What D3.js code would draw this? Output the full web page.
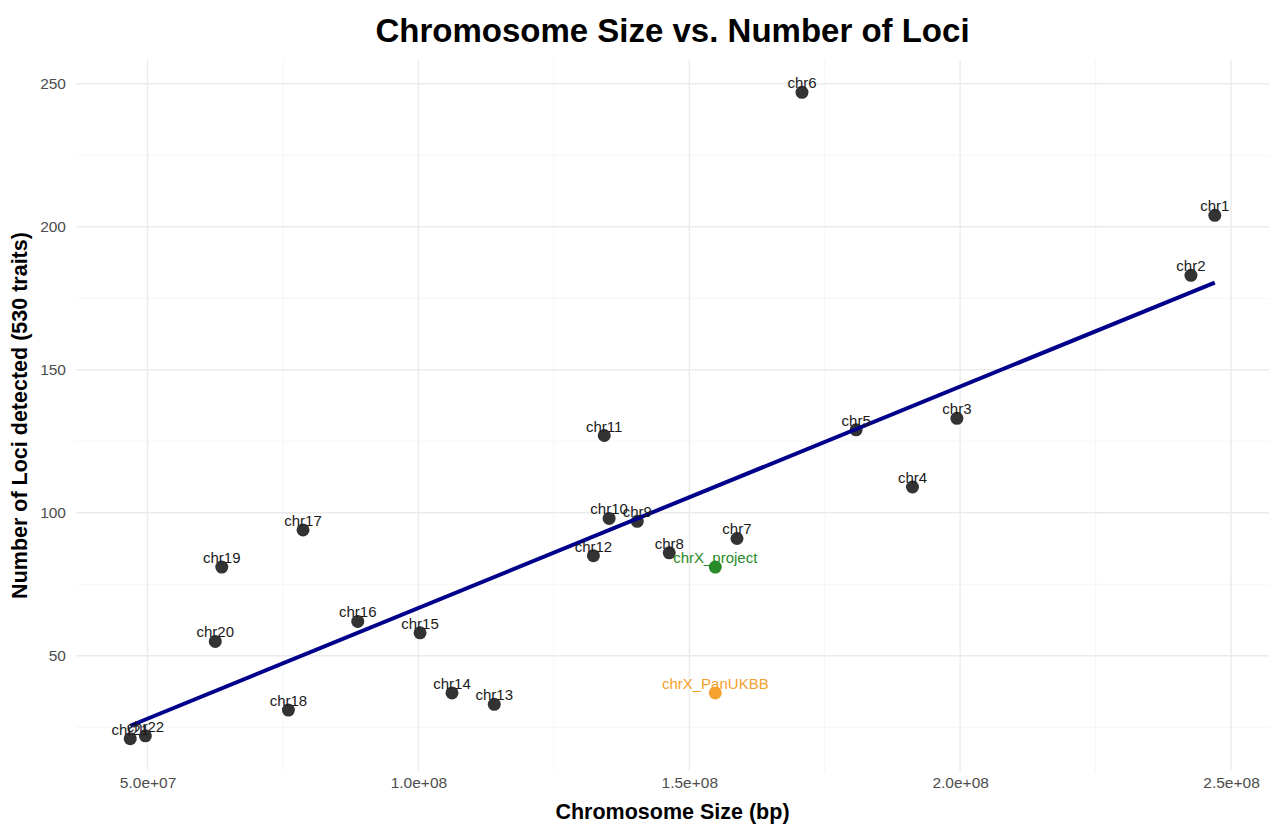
<!DOCTYPE html>
<html>
<head>
<meta charset="utf-8">
<script src="https://cdn.jsdelivr.net/npm/d3@7"></script>
<style>
  body { margin: 0; background: #fff; }
  text { font-family: "Liberation Sans", Arial, sans-serif; }
</style>
</head>
<body>
<div id="chart"></div>
<script>
// chromosome names, sizes (bp) and loci counts
var chromNames = ["chr1", "chr2", "chr3", "chr4", "chr5", "chr6", "chr7", "chr8",
  "chr9", "chr10", "chr11", "chr12", "chr13", "chr14", "chr15", "chr16",
  "chr17", "chr18", "chr19", "chr20", "chr21", "chr22", "chrX_project", "chrX_PanUKBB"];
var chromSizes = [247.0e6, 242.6e6, 199.4e6, 191.2e6, 180.8e6, 170.8e6, 158.8e6, 146.3e6,
  140.4e6, 135.2e6, 134.3e6, 132.3e6, 114.0e6, 106.2e6, 100.3e6, 88.8e6,
  78.7e6, 76.0e6, 63.7e6, 62.5e6, 46.8e6, 49.6e6, 154.8e6, 154.8e6];
var lociCounts = [204, 183, 133, 109, 129, 247, 91, 86,
  97, 98, 127, 85, 33, 37, 58, 62,
  94, 31, 81, 55, 21, 22, 81, 37];
var pointGroups = ["auto", "auto", "auto", "auto", "auto", "auto", "auto", "auto",
  "auto", "auto", "auto", "auto", "auto", "auto", "auto", "auto",
  "auto", "auto", "auto", "auto", "auto", "auto", "project", "panukbb"];

var xTicks = [5e7, 1e8, 1.5e8, 2e8, 2.5e8];
var yTicks = [50, 100, 150, 200, 250];

var groupColor = { auto: "#333333", project: "#2a8a2a", panukbb: "#f5a12d" };
var labelColor = { auto: "#1a1a1a", project: "#2a8a2a", panukbb: "#f5a12d" };

var svgWidth = 1269;
var svgHeight = 824;
var margin = { top: 60, right: 0, bottom: 53, left: 76 };
var width = svgWidth - margin.left - margin.right;
var height = svgHeight - margin.top - margin.bottom;

var data = chromNames.map(function(name, i) {
  return { name: name, size: chromSizes[i], loci: lociCounts[i], group: pointGroups[i] };
});

var svg = d3.select("#chart")
  .append("svg")
  .attr("width", svgWidth)
  .attr("height", svgHeight);

var chartGroup = svg.append("g")
  .attr("transform", `translate(${margin.left}, ${margin.top})`);

// ggplot-like 5% expansion of the data range
function expand(ext) {
  var pad = (ext[1] - ext[0]) * 0.05;
  return [ext[0] - pad, ext[1] + pad];
}

var xScale = d3.scaleLinear()
  .domain(expand(d3.extent(data, d => d.size)))
  .range([0, width]);

var yScale = d3.scaleLinear()
  .domain(expand(d3.extent(data, d => d.loci)))
  .range([height, 0]);

// minor grid: midpoints between the major breaks
function minorBreaks(ticks, scale) {
  var step = ticks[1] - ticks[0];
  var out = [];
  for (var v = ticks[0] - step / 2; v <= ticks[ticks.length - 1] + step; v += step) {
    var dm = scale.domain();
    if (v >= dm[0] && v <= dm[1]) out.push(v);
  }
  return out;
}

var grid = chartGroup.append("g");
grid.selectAll(".xminor")
  .data(minorBreaks(xTicks, xScale))
  .enter().append("line")
  .attr("x1", d => xScale(d)).attr("x2", d => xScale(d))
  .attr("y1", 0).attr("y2", height)
  .attr("stroke", "#f2f2f2").attr("stroke-width", 0.8);
grid.selectAll(".yminor")
  .data(minorBreaks(yTicks, yScale))
  .enter().append("line")
  .attr("y1", d => yScale(d)).attr("y2", d => yScale(d))
  .attr("x1", 0).attr("x2", width)
  .attr("stroke", "#f2f2f2").attr("stroke-width", 0.8);
grid.selectAll(".xmajor")
  .data(xTicks)
  .enter().append("line")
  .attr("x1", d => xScale(d)).attr("x2", d => xScale(d))
  .attr("y1", 0).attr("y2", height)
  .attr("stroke", "#ebebeb").attr("stroke-width", 1.4);
grid.selectAll(".ymajor")
  .data(yTicks)
  .enter().append("line")
  .attr("y1", d => yScale(d)).attr("y2", d => yScale(d))
  .attr("x1", 0).attr("x2", width)
  .attr("stroke", "#ebebeb").attr("stroke-width", 1.4);

// tick labels like R's scientific format: 5.0e+07
var sciFormat = function(d) {
  return d3.format(".1e")(d).replace(/e([+-])(\d)$/, "e$10$2");
};

var bottomAxis = d3.axisBottom(xScale).tickValues(xTicks).tickSize(0).tickPadding(6).tickFormat(sciFormat);
var leftAxis = d3.axisLeft(yScale).tickValues(yTicks).tickSize(0).tickPadding(10);

var xAxis = chartGroup.append("g")
  .attr("transform", `translate(0, ${height})`)
  .call(bottomAxis);
var yAxis = chartGroup.append("g").call(leftAxis);

[xAxis, yAxis].forEach(function(ax) {
  ax.select(".domain").remove();
  ax.selectAll("text")
    .attr("fill", "#4d4d4d")
    .style("font-size", "15.5px")
    .style("font-family", "'Liberation Sans', Arial, sans-serif");
});

// points
chartGroup.selectAll("circle")
  .data(data)
  .enter()
  .append("circle")
  .attr("cx", d => xScale(d.size))
  .attr("cy", d => yScale(d.loci))
  .attr("r", 6.5)
  .attr("fill", d => groupColor[d.group]);

// least squares fit over all points
var mx = d3.mean(data, d => d.size);
var my = d3.mean(data, d => d.loci);
var sxy = d3.sum(data, d => (d.size - mx) * (d.loci - my));
var sxx = d3.sum(data, d => (d.size - mx) * (d.size - mx));
var slope = sxy / sxx;
var intercept = my - slope * mx;
var xExt = d3.extent(data, d => d.size);

chartGroup.append("path")
  .datum(xExt.map(x => [x, intercept + slope * x]))
  .attr("d", d3.line().x(d => xScale(d[0])).y(d => yScale(d[1])))
  .attr("stroke", "#00008b")
  .attr("stroke-width", 4)
  .attr("fill", "none");

// labels
chartGroup.selectAll(".pointLabel")
  .data(data)
  .enter()
  .append("text")
  .attr("x", d => xScale(d.size))
  .attr("y", d => yScale(d.loci) - 4)
  .attr("text-anchor", "middle")
  .attr("fill", d => labelColor[d.group])
  .style("font-size", "15px")
  .text(d => d.name);

// titles
svg.append("text")
  .attr("x", margin.left + width / 2)
  .attr("y", 42)
  .attr("text-anchor", "middle")
  .style("font-size", "33px")
  .style("font-weight", "bold")
  .text("Chromosome Size vs. Number of Loci");

svg.append("text")
  .attr("x", margin.left + width / 2)
  .attr("y", 819)
  .attr("text-anchor", "middle")
  .style("font-size", "21.5px")
  .style("font-weight", "bold")
  .text("Chromosome Size (bp)");

svg.append("text")
  .attr("transform", "rotate(-90)")
  .attr("x", -(margin.top + height / 2))
  .attr("y", 27)
  .attr("text-anchor", "middle")
  .style("font-size", "21.5px")
  .style("font-weight", "bold")
  .text("Number of Loci detected (530 traits)");
</script>
</body>
</html>
